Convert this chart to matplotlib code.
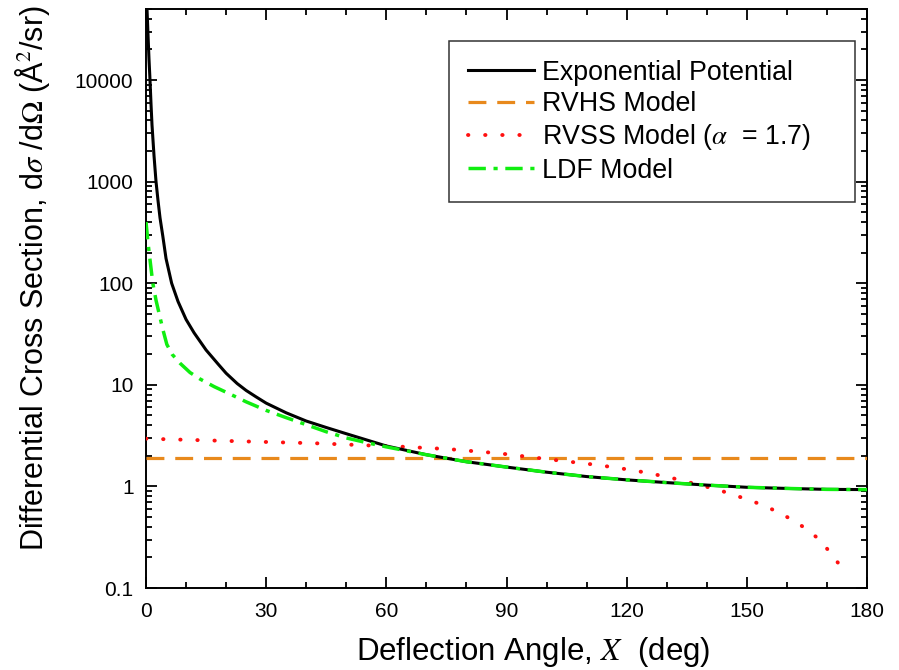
import numpy as np
import matplotlib
matplotlib.use("Agg")
import matplotlib.pyplot as plt
from matplotlib.ticker import FixedLocator, FixedFormatter, MultipleLocator, LogLocator, NullFormatter

plt.rcParams['font.family'] = ['Liberation Sans', 'DejaVu Sans']
plt.rcParams['mathtext.fontset'] = 'stix'

# Exponential potential
exp_x = [0.25, 0.5, 0.75, 1.0, 1.25, 1.5, 2.0, 2.5, 3.0, 3.5, 4.2, 5.0, 6.4, 8, 10, 12, 15, 18,
         20, 22.75, 25, 27.5, 30, 35, 40, 45, 50, 60, 70, 80, 90, 100, 110, 120, 130, 140, 150,
         160, 170, 180]
exp_y = [50000, 28000, 16000, 10000, 5800, 3600, 1800, 1000, 650, 440, 290, 175, 100, 66, 44,
         32.5, 22, 16, 13, 10.3, 8.8, 7.6, 6.6, 5.3, 4.4, 3.8, 3.3, 2.5, 2.05, 1.75, 1.55, 1.38,
         1.25, 1.16, 1.09, 1.03, 0.98, 0.955, 0.935, 0.93]

# RVHS model
rvhs_x = [0, 180]
rvhs_y = [1.9, 1.9]

# RVSS model (alpha = 1.7)
rvss_x = [0, 25, 42, 59, 63, 75.5, 88, 100.5, 113, 121.75, 130.2, 134.3, 142.7, 150.8, 155,
          159.3, 163.3, 167.7, 171, 174.2]
rvss_y = [2.95, 2.77, 2.66, 2.5, 2.47, 2.33, 2.12, 1.85, 1.62, 1.44, 1.24, 1.13, 0.93, 0.73,
          0.63, 0.52, 0.42, 0.31, 0.22, 0.148]

# LDF model
ldf_x = [0, 0.5, 1.0, 1.7, 2.5, 3.5, 4.3, 5.2, 6.5, 8.5, 11, 13.5, 17, 21, 25, 30, 35, 40,
         45, 50, 55, 60, 70, 80, 90, 100, 110, 120, 130, 140, 150, 160, 170, 180]
ldf_y = [400, 250, 170, 100, 68, 46, 34, 25, 20, 16.3, 13.2, 11.4, 9.6, 8.1, 6.8,
         5.6, 4.75, 4.05, 3.45, 3.0, 2.7, 2.45, 2.05, 1.75, 1.55, 1.38, 1.25, 1.16, 1.09, 1.03,
         0.98, 0.955, 0.935, 0.93]

ytick_vals = [0.1, 1, 10, 100, 1000, 10000]
ytick_labels = ['0.1', '1', '10', '100', '1000', '10000']
xtick_vals = [0, 30, 60, 90, 120, 150, 180]

fig = plt.figure(figsize=(8.99, 6.70), dpi=100)
ax = fig.add_axes([146/899, 1-588/670, (867-146)/899, (588-9)/670])

ax.plot(exp_x, exp_y, color='black', lw=2.2, label='Exponential Potential', zorder=4)
ax.plot(rvhs_x, rvhs_y, color='#e8891c', lw=2.3, dashes=(5.6, 3.4), label='RVHS Model', zorder=3)
ax.plot(rvss_x, rvss_y, color='#ff1010', lw=2.8, linestyle=(0, (0.1, 4.3)),
        dash_capstyle='round', label=r'RVSS Model ($\alpha$  = 1.7)', zorder=3)
ax.plot(ldf_x, ldf_y, color='#10ee10', lw=2.5, dashes=(5, 2.2, 1.2, 2.2),
        label='LDF Model', zorder=5)

ax.set_yscale('log')
ax.set_xlim(0, 180)
ax.set_ylim(0.1, 50000)

ax.xaxis.set_major_locator(FixedLocator(xtick_vals))
ax.xaxis.set_minor_locator(MultipleLocator(10))
ax.yaxis.set_major_locator(FixedLocator(ytick_vals))
ax.yaxis.set_major_formatter(FixedFormatter(ytick_labels))
ax.yaxis.set_minor_locator(LogLocator(base=10, subs=np.arange(2, 10)))
ax.yaxis.set_minor_formatter(NullFormatter())

ax.tick_params(which='both', direction='in', top=True, right=True, width=1.3)
ax.tick_params(which='major', length=8, labelsize=15)
ax.tick_params(axis='x', which='major', pad=10)
ax.tick_params(axis='y', which='major', pad=9)
ax.tick_params(which='minor', length=4.5)
for s in ax.spines.values():
    s.set_linewidth(1.4)

ax.set_xlabel(r'Deflection Angle, $\mathit{X}$  (deg)', fontsize=22.5)
ax.xaxis.set_label_coords(0.537, -0.111, transform=ax.transAxes)
ax.xaxis.label.set_va('center')
ax.set_ylabel(r'Differential Cross Section, d$\sigma$ /d$\Omega$ (Å$^{2}$/sr)', fontsize=22)
ax.yaxis.set_label_coords(-0.158, 0.535, transform=ax.transAxes)
ax.yaxis.label.set_va('center')

leg = ax.legend(loc='upper left', bbox_to_anchor=(0.4205, 0.675, 0.5625, 0.27), mode='expand',
                fontsize=19.3, frameon=True, fancybox=False, edgecolor='black',
                handlelength=2.45, handletextpad=0.3, labelspacing=0.2, borderpad=0.7,
                borderaxespad=0)
leg.get_frame().set_linewidth(1.1)

fig.savefig('out.png', dpi=100)
